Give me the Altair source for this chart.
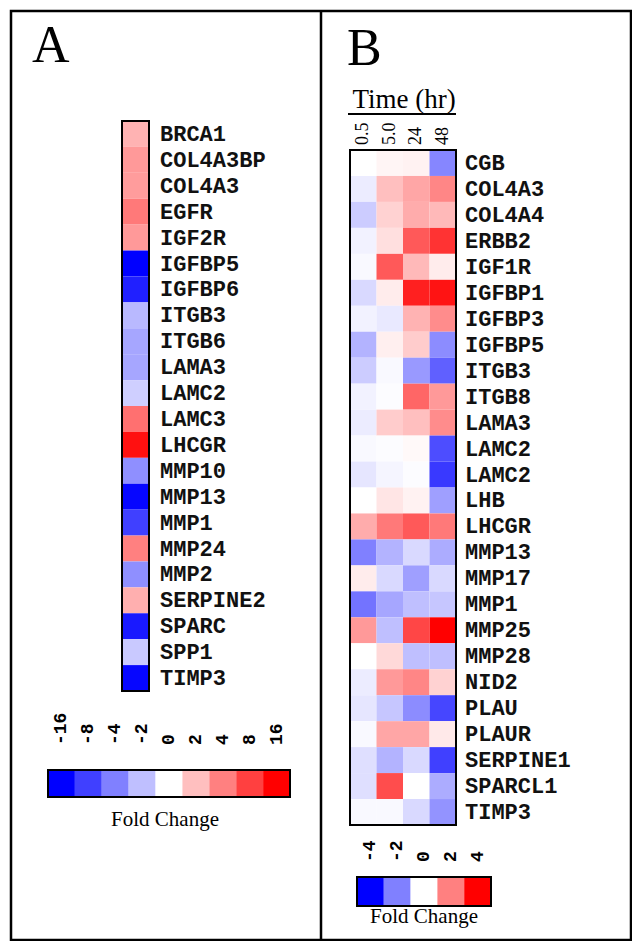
import altair as alt
import pandas as pd

# ---------------- data ----------------
genes_a = ["BRCA1", "COL4A3BP", "COL4A3", "EGFR", "IGF2R", "IGFBP5", "IGFBP6",
           "ITGB3", "ITGB6", "LAMA3", "LAMC2", "LAMC3", "LHCGR", "MMP10", "MMP13",
           "MMP1", "MMP24", "MMP2", "SERPINE2", "SPARC", "SPP1", "TIMP3"]
log2fc_a = [1.2, 1.6, 1.55, 2.1, 1.6, -4.0, -3.5, -1.1, -1.4, -1.4, -0.75, 2.25,
            3.75, -1.75, -3.9, -3.0, 2.0, -1.75, 1.25, -3.6, -0.85, -3.9]

genes_b = ["CGB", "COL4A3", "COL4A4", "ERBB2", "IGF1R", "IGFBP1", "IGFBP3", "IGFBP5",
           "ITGB3", "ITGB8", "LAMA3", "LAMC2", "LAMC2", "LHB", "LHCGR", "MMP13",
           "MMP17", "MMP1", "MMP25", "MMP28", "NID2", "PLAU", "PLAUR", "SERPINE1",
           "SPARCL1", "TIMP3"]
times_b = ["0.5", "5.0", "24", "48"]
fc_b_05 = [0.0, -0.3, -0.8, -0.2, -0.1, -0.6, -0.2, -1.2, -0.8, -0.2, -0.3, -0.1, -0.4,
           0.0, 1.3, -2.0, 0.3, -2.2, 1.6, 0.0, -0.3, -0.4, -0.1, -0.5, -0.5, -0.1]
fc_b_50 = [0.15, 1.0, 0.7, 0.5, 2.6, 0.3, -0.35, 0.25, -0.1, -0.05, 0.8, -0.05, -0.15,
           0.4, 2.1, -1.2, -0.6, -1.4, -1.0, 0.6, 1.6, -0.9, 1.4, -1.2, 2.8, -0.1]
fc_b_24 = [0.2, 1.4, 1.3, 2.6, 1.1, 3.5, 1.2, 0.8, -1.6, 2.4, 1.0, 0.1, -0.05,
           0.2, 2.6, -0.6, -1.5, -1.0, 2.9, -1.0, 1.9, -1.8, 1.4, -0.6, 0.0, -0.6]
fc_b_48 = [-1.9, 1.9, 1.1, 3.2, 0.3, 3.7, 1.8, -1.8, -2.5, 1.6, 1.8, -2.8, -3.1,
           -1.5, 2.1, -1.3, -0.6, -0.9, 4.0, -1.0, 0.7, -2.9, 0.35, -3.0, -1.3, -1.7]

legend_a_labels = ["-16", "-8", "-4", "-2", "0", "2", "4", "8", "16"]
legend_a_levels = [-4, -3, -2, -1, 0, 1, 2, 3, 4]
legend_b_labels = ["-4", "-2", "0", "2", "4"]
legend_b_levels = [-4, -2, 0, 2, 4]

# ---------------- tables ----------------
df_a = pd.DataFrame({"row": list(range(len(genes_a))), "gene": genes_a, "v": log2fc_a})
rows_b = []
for series_t, series_v in zip(times_b, [fc_b_05, fc_b_50, fc_b_24, fc_b_48]):
    for i, (g, v) in enumerate(zip(genes_b, series_v)):
        rows_b.append({"row": i, "gene": g, "time": series_t, "v": v})
df_b = pd.DataFrame(rows_b)
df_b_lab = pd.DataFrame({"row": list(range(len(genes_b))), "gene": genes_b})
df_t = pd.DataFrame({"time": times_b})
df_la = pd.DataFrame({"lab": legend_a_labels, "v": legend_a_levels})
df_lb = pd.DataFrame({"lab": legend_b_labels, "v": legend_b_levels})
one = pd.DataFrame({"k": [0]})

SERIF = "Liberation Serif"
MONO = "Liberation Mono"

cs = alt.Scale(domain=[-4, 0, 4], range=["#0000ff", "#ffffff", "#ff0000"], interpolate="rgb")


def band(domain, lo, hi):
    return alt.Scale(domain=domain, range=[lo, hi], paddingInner=0, paddingOuter=0)


ya = band(list(range(len(genes_a))), 110, 680)
yb = band(list(range(len(genes_b))), 139, 814)
xb = band(times_b, 339, 445)
xla = band(legend_a_labels, 37, 279)
xlb = band(legend_b_labels, 346, 480)

layers = []

# Panel letters
layers.append(alt.Chart(one).mark_text(text="A", font=SERIF, fontSize=52, align="left",
                                       baseline="alphabetic").encode(x=alt.value(21), y=alt.value(51)))
layers.append(alt.Chart(one).mark_text(text="B", font=SERIF, fontSize=52, align="left",
                                       baseline="alphabetic").encode(x=alt.value(336), y=alt.value(54)))
# Divider
layers.append(alt.Chart(one).mark_rule(color="black", strokeWidth=2.5).encode(
    x=alt.value(310), y=alt.value(0), y2=alt.value(929)))

# ---- Panel A heatmap ----
layers.append(alt.Chart(df_a).mark_rect().encode(
    x=alt.value(111), x2=alt.value(138),
    y=alt.Y("row:O", scale=ya, axis=None),
    color=alt.Color("v:Q", scale=cs, legend=None)))
layers.append(alt.Chart(one).mark_rect(fillOpacity=0, stroke="black", strokeWidth=2).encode(
    x=alt.value(111), x2=alt.value(138), y=alt.value(110), y2=alt.value(680)))
layers.append(alt.Chart(df_a).mark_text(align="left", baseline="middle", font=MONO,
                                        fontSize=22, fontWeight="bold", color="#111111").encode(
    x=alt.value(149), y=alt.Y("row:O", scale=ya, axis=None), text="gene:N"))

# ---- Panel A legend ----
layers.append(alt.Chart(df_la).mark_rect().encode(
    x=alt.X("lab:N", scale=xla, axis=None), y=alt.value(759), y2=alt.value(786),
    color=alt.Color("v:Q", scale=cs, legend=None)))
layers.append(alt.Chart(one).mark_rect(fillOpacity=0, stroke="black", strokeWidth=2).encode(
    x=alt.value(37), x2=alt.value(279), y=alt.value(759), y2=alt.value(786)))
layers.append(alt.Chart(df_la).mark_text(align="left", baseline="middle", angle=270, font=MONO,
                                         fontSize=18, fontWeight="bold", color="black").encode(
    x=alt.X("lab:N", scale=xla, axis=None), y=alt.value(734), text="lab:N"))
layers.append(alt.Chart(one).mark_text(text="Fold Change", font=SERIF, fontSize=21,
                                       align="center", baseline="alphabetic").encode(
    x=alt.value(154), y=alt.value(815)))

# ---- Panel B header ----
layers.append(alt.Chart(one).mark_text(text="Time (hr)", font=SERIF, fontSize=27,
                                       align="center", baseline="alphabetic").encode(
    x=alt.value(393), y=alt.value(97)))
layers.append(alt.Chart(one).mark_rule(color="black", strokeWidth=2).encode(
    x=alt.value(337), x2=alt.value(445), y=alt.value(103)))
layers.append(alt.Chart(df_t).mark_text(align="left", baseline="middle", angle=270, font=SERIF,
                                        fontSize=18, color="black").encode(
    x=alt.X("time:N", scale=xb, axis=None), y=alt.value(134), text="time:N"))

# ---- Panel B heatmap ----
layers.append(alt.Chart(df_b).mark_rect().encode(
    x=alt.X("time:N", scale=xb, axis=None),
    y=alt.Y("row:O", scale=yb, axis=None),
    color=alt.Color("v:Q", scale=cs, legend=None)))
layers.append(alt.Chart(one).mark_rect(fillOpacity=0, stroke="black", strokeWidth=2).encode(
    x=alt.value(339), x2=alt.value(445), y=alt.value(139), y2=alt.value(814)))
layers.append(alt.Chart(df_b_lab).mark_text(align="left", baseline="middle", font=MONO,
                                            fontSize=22, fontWeight="bold", color="#111111").encode(
    x=alt.value(454), y=alt.Y("row:O", scale=yb, axis=None), text="gene:N"))

# ---- Panel B legend ----
layers.append(alt.Chart(df_lb).mark_rect().encode(
    x=alt.X("lab:N", scale=xlb, axis=None), y=alt.value(866), y2=alt.value(895),
    color=alt.Color("v:Q", scale=cs, legend=None)))
layers.append(alt.Chart(one).mark_rect(fillOpacity=0, stroke="black", strokeWidth=2).encode(
    x=alt.value(346), x2=alt.value(480), y=alt.value(866), y2=alt.value(895)))
layers.append(alt.Chart(df_lb).mark_text(align="left", baseline="middle", angle=270, font=MONO,
                                         fontSize=18, fontWeight="bold", color="black").encode(
    x=alt.X("lab:N", scale=xlb, axis=None), y=alt.value(851), text="lab:N"))
layers.append(alt.Chart(one).mark_text(text="Fold Change", font=SERIF, fontSize=21,
                                       align="center", baseline="alphabetic").encode(
    x=alt.value(413), y=alt.value(912)))

chart = alt.layer(*layers).resolve_scale(x="independent", y="independent").properties(
    width=620, height=929, autosize="none",
    padding={"left": 3, "top": 3, "right": 1, "bottom": 1},
).configure_view(stroke="black", strokeWidth=2.5)

chart.save("out.html", embed_options={"renderer": "svg", "actions": False})
